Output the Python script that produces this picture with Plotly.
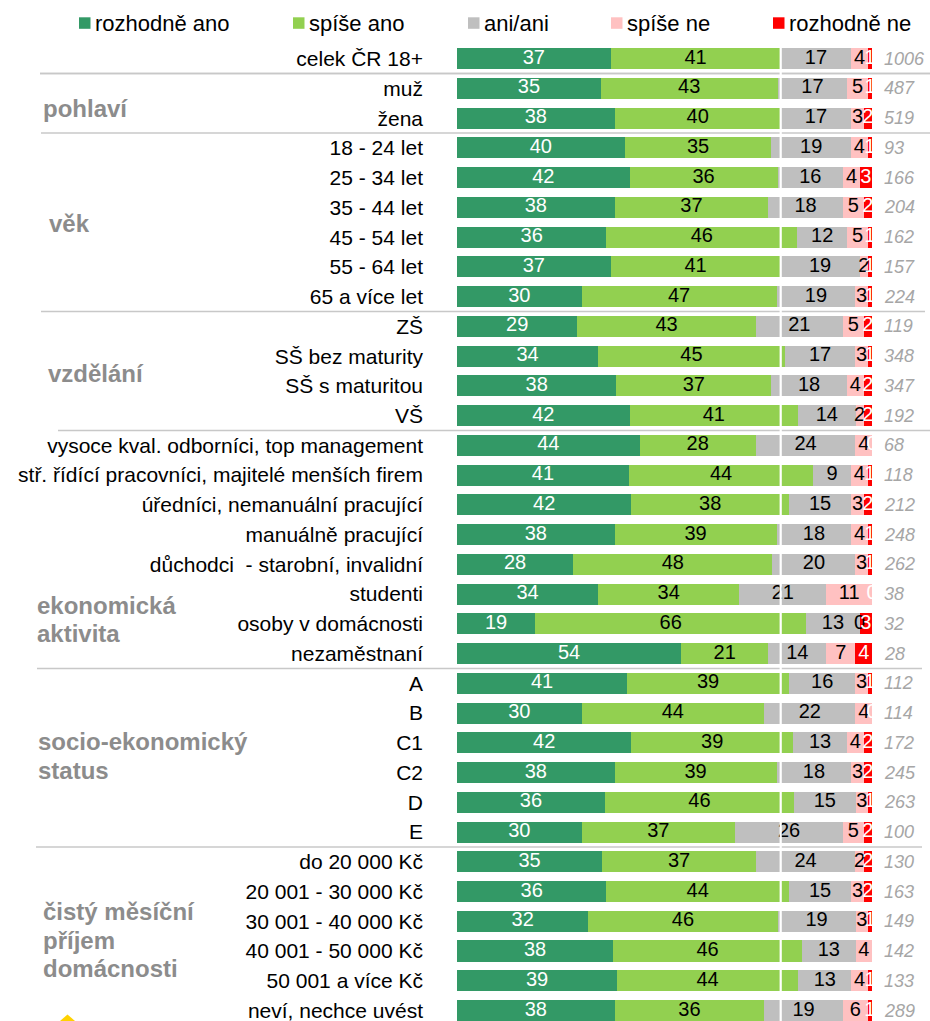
import plotly.graph_objects as go

# ---------------- data ----------------
categories = [
    "celek ČR 18+",
    "muž", "žena",
    "18 - 24 let", "25 - 34 let", "35 - 44 let", "45 - 54 let", "55 - 64 let", "65 a více let",
    "ZŠ", "SŠ bez maturity", "SŠ s maturitou", "VŠ",
    "vysoce kval. odborníci, top management",
    "stř. řídící pracovníci, majitelé menších firem",
    "úředníci, nemanuální pracující",
    "manuálně pracující",
    "důchodci  - starobní, invalidní",
    "studenti",
    "osoby v domácnosti",
    "nezaměstnaní",
    "A", "B", "C1", "C2", "D", "E",
    "do 20 000 Kč", "20 001 - 30 000 Kč", "30 001 - 40 000 Kč",
    "40 001 - 50 000 Kč", "50 001 a více Kč", "neví, nechce uvést",
]
rozhodne_ano = [37, 35, 38, 40, 42, 38, 36, 37, 30, 29, 34, 38, 42, 44, 41, 42, 38, 28, 34, 19, 54,
                41, 30, 42, 38, 36, 30, 35, 36, 32, 38, 39, 38]
spise_ano = [41, 43, 40, 35, 36, 37, 46, 41, 47, 43, 45, 37, 41, 28, 44, 38, 39, 48, 34, 66, 21,
             39, 44, 39, 39, 46, 37, 37, 44, 46, 46, 44, 36]
ani_ani = [17, 17, 17, 19, 16, 18, 12, 19, 19, 21, 17, 18, 14, 24, 9, 15, 18, 20, 21, 13, 14,
           16, 22, 13, 18, 15, 26, 24, 15, 19, 13, 13, 19]
spise_ne = [4, 5, 3, 4, 4, 5, 5, 2, 3, 5, 3, 4, 2, 4, 4, 3, 4, 3, 11, 0, 7,
            3, 4, 4, 3, 3, 5, 2, 3, 3, 4, 4, 6]
rozhodne_ne = [1, 1, 2, 1, 3, 2, 1, 1, 1, 2, 1, 2, 2, 0, 1, 2, 1, 1, 0, 3, 4,
               1, 0, 2, 2, 1, 2, 2, 2, 1, 0, 1, 1]
n_resp = [1006, 487, 519, 93, 166, 204, 162, 157, 224, 119, 348, 347, 192, 68, 118, 212, 248, 262,
          38, 32, 28, 112, 114, 172, 245, 263, 100, 130, 163, 149, 142, 133, 289]
series_names = ["rozhodně ano", "spíše ano", "ani/ani", "spíše ne", "rozhodně ne"]
group_titles = [["pohlaví"], ["věk"], ["vzdělání"], ["ekonomická", "aktivita"],
                ["socio-ekonomický", "status"], ["čistý měsíční", "příjem", "domácnosti"]]
group_first_row = [1, 3, 9, 13, 21, 27]

# ---------------- style / layout constants ----------------
series_colors = ["#339966", "#92D050", "#BFBFBF", "#FFC1C1", "#FF0000"]
label_colors = ["white", "black", "black", "black", "white"]
FONT = "Liberation Sans, Arial, sans-serif"
W, H = 930, 1021
ROW0_PX, PITCH_PX = 58.7, 29.745
BAR_X0_PX, BAR_X1_PX = 457, 872
legend_marker_px = [79, 293, 468, 611, 773]
group_label_x_px = [43, 49, 48, 37, 38, 43]
group_label_y_px = [[108], [224], [373], [605, 633], [741, 770], [911, 940, 968]]
sep_x_px = [(40, 930), (41, 930), (41, 925), (58, 930), (37, 922), (36, 922)]


def py(px):
    return 1 - px / H


series = [rozhodne_ano, spise_ano, ani_ani, spise_ne, rozhodne_ne]
row_sums = [sum(vals) for vals in zip(*series)]

fig = go.Figure()
for name, vals, col in zip(series_names, series, series_colors):
    fig.add_trace(go.Bar(
        y=categories, x=vals, name=name, orientation="h",
        marker=dict(color=col, line=dict(width=0)),
        showlegend=False, hoverinfo="skip",
    ))

# data labels centred in each segment (normalised like the 100 % stack)
cum = [0.0] * len(categories)
for vals, tcol in zip(series, label_colors):
    mids = []
    for i, v in enumerate(vals):
        p = v / row_sums[i] * 100
        mids.append(cum[i] + p / 2)
        cum[i] += p
    fig.add_trace(go.Scatter(
        y=categories, x=mids, mode="text", text=[str(v) for v in vals],
        textposition="middle center",
        textfont=dict(family=FONT, size=20, color=tcol),
        showlegend=False, hoverinfo="skip", cliponaxis=False,
    ))

annotations = []
shapes = []

# manual legend
for name, col, mx in zip(series_names, series_colors, legend_marker_px):
    shapes.append(dict(type="rect", xref="paper", yref="paper",
                       x0=mx / W, x1=(mx + 11.5) / W, y0=py(28.8), y1=py(17.3),
                       fillcolor=col, line=dict(width=0)))
    annotations.append(dict(text=name, xref="paper", yref="paper", x=(mx + 14) / W, y=py(23),
                            xanchor="left", yanchor="middle", showarrow=False,
                            font=dict(family=FONT, size=22, color="black")))

# respondents count
for cat, n in zip(categories, n_resp):
    annotations.append(dict(text=f"<i>{n}</i>", xref="paper", yref="y", x=882 / W, y=cat,
                            xanchor="left", yanchor="middle", showarrow=False,
                            font=dict(family=FONT, size=18, color="#A6A6A6")))

# group titles
for lines, gx, gys in zip(group_titles, group_label_x_px, group_label_y_px):
    for line, gy in zip(lines, gys):
        annotations.append(dict(text=f"<b>{line}</b>", xref="paper", yref="paper",
                                x=(gx - 2) / W, y=py(gy), xanchor="left", yanchor="middle",
                                showarrow=False, font=dict(family=FONT, size=24, color="#8C8C8C")))

# group separators
for r, (sx0, sx1) in zip(group_first_row, sep_x_px):
    shapes.append(dict(type="line", xref="paper", yref="y", x0=sx0 / W, x1=sx1 / W,
                       y0=r - 0.5, y1=r - 0.5, line=dict(color="#C8C8C8", width=1.5)))
shapes.append(dict(type="line", xref="paper", yref="y", x0=40 / W, x1=930 / W,
                   y0=0.5, y1=0.5, line=dict(color="#C8C8C8", width=1.5)))

# reference line at total "ano" share
ref = (rozhodne_ano[0] + spise_ano[0]) / row_sums[0] * 100
shapes.append(dict(type="line", xref="x", yref="y", x0=ref, x1=ref, y0=-0.45, y1=len(categories),
                   line=dict(color="white", width=2.2), layer="above"))

# logo fragment
shapes.append(dict(type="path", xref="paper", yref="paper",
                   path=f"M {60/W} {py(1021)} L {67.5/W} {py(1014.5)} L {75/W} {py(1021)} Z",
                   fillcolor="#FFD200", line=dict(width=0)))

fig.update_layout(
    width=W, height=H, margin=dict(l=0, r=0, t=0, b=0),
    barmode="stack", barnorm="percent", bargap=0.29,
    plot_bgcolor="white", paper_bgcolor="white",
    font=dict(family=FONT, color="black"),
    xaxis=dict(domain=[BAR_X0_PX / W, BAR_X1_PX / W], range=[0, 100], visible=False,
               fixedrange=True),
    yaxis=dict(categoryorder="array", categoryarray=categories,
               range=[(H - ROW0_PX) / PITCH_PX, -ROW0_PX / PITCH_PX],
               showgrid=False, zeroline=False, showline=False, ticks="",
               ticklabelstandoff=33, automargin=False,
               tickfont=dict(family=FONT, size=21, color="black")),
    annotations=annotations, shapes=shapes, showlegend=False,
)

fig.write_html(
    "out.html",
    config={"displayModeBar": False},
    post_script="document.body.style.margin='0';document.body.style.overflow='hidden';",
)
